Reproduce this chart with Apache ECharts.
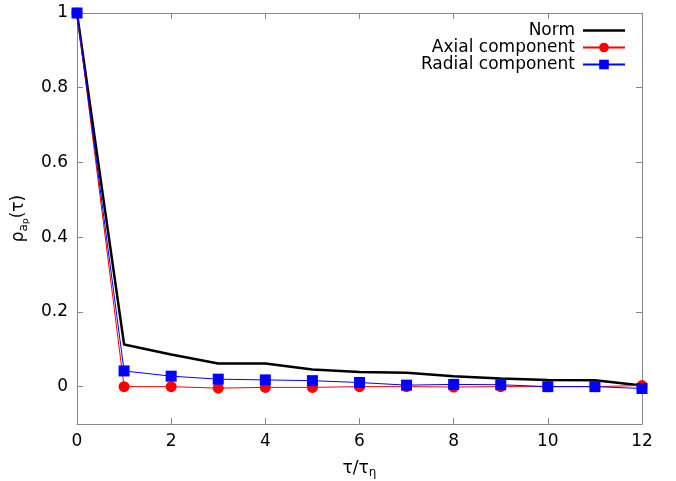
<!DOCTYPE html>
<html><head><meta charset="utf-8">
<script src="https://cdn.jsdelivr.net/npm/echarts@6/dist/echarts.min.js"></script>
<style>html,body{margin:0;padding:0;background:#fff}#c{width:676px;height:481px}</style>
</head><body><div id="c"></div>
<script>
var tau = [0,1,2,3,4,5,6,7,8,9,10,11,12];
var normVals = [1,0.113,0.086,0.062,0.062,0.046,0.039,0.037,0.028,0.022,0.018,0.017,0.003];
var axialVals = [1,0.0,0.0,-0.004,-0.002,-0.002,0.0,0.0,-0.001,0.0,0.0,0.0,0.003];
var radialVals = [1,0.042,0.028,0.020,0.018,0.016,0.011,0.004,0.006,0.005,0.0,0.0,-0.005];
var yTicks = [0,0.2,0.4,0.6,0.8,1];
var xTicks = [0,2,4,6,8,10,12];
var seriesNames = ['Norm','Axial component','Radial component'];

function pairs(v){ return tau.map(function(t,i){ return [t, v[i]]; }); }
var FONT = 'DejaVu Sans';
var FS = 17;
var axisCol = '#888';
function yLabel(v){ return v===1 ? '1' : (v===0 ? '0' : String(v)); }

var chart = echarts.init(document.getElementById('c'), null, {renderer:'canvas'});
chart.setOption({
  animation:false,
  backgroundColor:'#fff',
  grid:{left:77,right:34,top:13,bottom:57,containLabel:false,outerBoundsMode:'none'},
  legend:{
    orient:'vertical', right:45, top:17, align:'right',
    itemWidth:42, itemHeight:12, itemGap:0,
    textStyle:{fontFamily:FONT,fontSize:FS,lineHeight:16,color:'#000',padding:[0,3,0,0]},
    data:[{name:seriesNames[0], icon:'path://M0,0h42v2.5h-42z'}, seriesNames[1], seriesNames[2]]
  },
  xAxis:[{
    type:'value', min:0, max:12, interval:2,
    name:'τ/τ{s|η}', nameLocation:'middle', nameGap:34,
    nameTextStyle:{fontFamily:FONT,fontSize:FS,color:'#000',rich:{s:{fontFamily:FONT,fontSize:12,verticalAlign:'bottom',padding:[9,0,0,0]}}},
    axisLine:{show:true,onZero:false,lineStyle:{color:axisCol,width:1}},
    axisTick:{show:true,inside:true,length:6,lineStyle:{color:axisCol},customValues:xTicks},
    axisLabel:{fontFamily:FONT,fontSize:FS,color:'#000',margin:9,customValues:xTicks},
    splitLine:{show:false}
  },{
    type:'value', position:'top', min:0, max:12, interval:2,
    axisLine:{show:true,onZero:false,lineStyle:{color:axisCol,width:1}},
    axisTick:{show:true,inside:true,length:6,lineStyle:{color:axisCol},customValues:xTicks},
    axisLabel:{show:false}, splitLine:{show:false}
  }],
  yAxis:[{
    type:'value', min:-0.1, max:1,
    name:'ρ{s|a}{ss|p}(τ)', nameLocation:'middle', nameGap:46, nameRotate:90,
    nameTextStyle:{fontFamily:FONT,fontSize:FS,color:'#000',
      rich:{s:{fontFamily:FONT,fontSize:12,verticalAlign:'bottom',padding:[9,0,0,0]},
            ss:{fontFamily:FONT,fontSize:9,verticalAlign:'bottom',padding:[14,0,0,0]}}},
    axisLine:{show:true,onZero:false,lineStyle:{color:axisCol,width:1}},
    axisTick:{show:true,inside:true,length:6,lineStyle:{color:axisCol},customValues:yTicks},
    axisLabel:{fontFamily:FONT,fontSize:FS,color:'#000',margin:9,customValues:yTicks,formatter:yLabel},
    splitLine:{show:false}
  },{
    type:'value', position:'right', min:-0.1, max:1,
    axisLine:{show:true,onZero:false,lineStyle:{color:axisCol,width:1}},
    axisTick:{show:true,inside:true,length:6,lineStyle:{color:axisCol},customValues:yTicks},
    axisLabel:{show:false}, splitLine:{show:false}
  }],
  series:[{
    name:seriesNames[0], type:'line', data:pairs(normVals), symbol:'none',
    lineStyle:{color:'#000',width:2.5}, itemStyle:{color:'#000'}, z:2
  },{
    name:seriesNames[1], type:'line', data:pairs(axialVals), symbol:'circle', symbolSize:11,
    lineStyle:{color:'#ff0000',width:1}, itemStyle:{color:'#ff0000'}, z:3
  },{
    name:seriesNames[2], type:'line', data:pairs(radialVals), symbol:'rect', symbolSize:11,
    lineStyle:{color:'#0000ff',width:1}, itemStyle:{color:'#0000ff'}, z:4
  }]
});
</script></body></html>
